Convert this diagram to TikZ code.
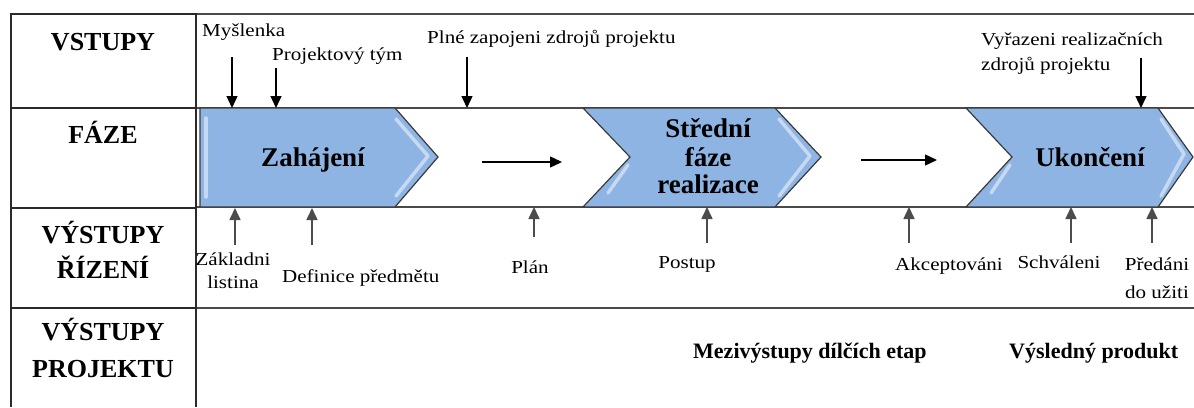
\documentclass[tikz,border=0pt]{standalone}
\usepackage{fontspec}
\setmainfont{Liberation Serif}
\newfontfamily\lblfont[FakeStretch=1.15]{Liberation Serif}
\usetikzlibrary{arrows.meta}
\definecolor{chevfill}{HTML}{8EB4E3}
\definecolor{chevline}{HTML}{3A3A3A}
\definecolor{gridline}{HTML}{2A2A2A}
\tikzset{
  headbold/.style={font=\fontsize{26}{36}\selectfont\bfseries, align=center, inner sep=0pt},
  phasetxt/.style={font=\fontsize{27}{28}\selectfont\bfseries, align=center, inner sep=0pt},
  outtxt/.style={font=\fontsize{22}{26}\selectfont\bfseries, inner sep=0pt},
  lbl/.style={font=\lblfont\fontsize{18.3}{24}\selectfont, inner sep=0pt},
  chevron/.style={fill=chevfill, draw=chevline, line width=1.2pt, line join=miter},
  bevel/.style={draw=white, opacity=0.5, line width=3.5pt, line cap=round, line join=round},
  gridrule/.style={draw=gridline, line width=1.8pt},
  thinrule/.style={draw=gridline!85, line width=1.5pt},
  flowarrow/.style={draw=black, line width=1.4pt, -{Triangle[length=12pt,width=11pt]}},
  uparrow/.style={draw=black!70, line width=1.6pt, -{Triangle[length=12pt,width=11pt]}}
}
\begin{document}
\begin{tikzpicture}[x=1pt,y=-1pt]
\useasboundingbox (0,0) rectangle (1194,407);
\fill[white] (0,0) rectangle (1194,407);

% table rules
\draw[thinrule] (196,14) -- (1194,14);
\draw[thinrule] (196,108) -- (1194,108);
\draw[thinrule] (196,207) -- (1194,207);
\draw[thinrule] (196,308) -- (1194,308);
\draw[gridrule] (11,14) -- (196,14);
\draw[gridrule] (11,108) -- (196,108);
\draw[gridrule] (11,208) -- (196,208);
\draw[gridrule] (11,308) -- (196,308);
\draw[gridrule] (11,13) -- (11,407);
\draw[gridrule] (196,13) -- (196,407);

% row headers
\node[headbold, anchor=base] (hin) at (103,50) {VSTUPY};
\node[headbold, anchor=base] (hfaze) at (103,143) {FÁZE};
\node[headbold, anchor=base] (hriz) at (103,243) {VÝSTUPY};
\node[headbold, anchor=base] (hriz2) at (103,278) {ŘÍZENÍ};
\node[headbold, anchor=base] (hproj) at (103,340) {VÝSTUPY};
\node[headbold, anchor=base] (hproj2) at (103,377) {PROJEKTU};

% chevrons
\draw[chevron] (200,108) -- (395,108) -- (438,157) -- (395,207) -- (200,207) -- cycle;
\draw[chevron] (583,108) -- (775,108) -- (821,157) -- (775,207) -- (583,207) -- (630,157) -- cycle;
\draw[chevron] (966,108) -- (1158,108) -- (1193,157) -- (1158,207) -- (966,207) -- (1012,157) -- cycle;

% bevel highlights
\draw[bevel] (206,118) -- (206,197);
\draw[bevel] (396,119) -- (428,156) -- (396,196);
\draw[bevel] (608,193) -- (628,165);
\draw[bevel] (779,119) -- (810,156) -- (779,196);
\draw[bevel] (991,193) -- (1010,165);
\draw[bevel] (1161,119) -- (1184,154) -- (1161,196);

% phase names
\node[phasetxt, anchor=base] (p1) at (313,166) {Zahájení};
\node[phasetxt, anchor=base] (p2a) at (708,137) {Střední};
\node[phasetxt, anchor=base] (p2b) at (708,166) {fáze};
\node[phasetxt, anchor=base] (p2c) at (708,193) {realizace};
\node[phasetxt, anchor=base] (p3) at (1090,166) {Ukončení};

% flow arrows between phases
\coordinate (f1s) at (482,162);
\coordinate (f1e) at (562,162);
\coordinate (f2s) at (861,160);
\coordinate (f2e) at (937,160);
\draw[flowarrow] (f1s) -- (f1e);
\draw[flowarrow] (f2s) -- (f2e);

% inputs
\node[lbl, anchor=base west] (mysl) at (202,36) {Myšlenka};
\node[lbl, anchor=base west] (tym) at (272,60) {Projektový tým};
\node[lbl, anchor=base west] (plne) at (427,43) {Plné zapojeni zdrojů projektu};
\node[lbl, anchor=base west] (vyr) at (981,45) {Vyřazeni realizačních};
\node[lbl, anchor=base west] (vyr2) at (981,70) {zdrojů projektu};

\coordinate (i1s) at (232,57);  \coordinate (i1e) at (232,108);
\coordinate (i2s) at (276,68);  \coordinate (i2e) at (276,108);
\coordinate (i3s) at (467,57);  \coordinate (i3e) at (467,108);
\coordinate (i4s) at (1141,58); \coordinate (i4e) at (1141,108);
\draw[flowarrow] (i1s) -- (i1e);
\draw[flowarrow] (i2s) -- (i2e);
\draw[flowarrow] (i3s) -- (i3e);
\draw[flowarrow] (i4s) -- (i4e);

% management outputs
\node[lbl, anchor=base] (zak) at (233,265) {Základni};
\node[lbl, anchor=base] (zak2) at (233,288) {listina};
\node[lbl, anchor=base west] (def) at (282,282) {Definice předmětu};
\node[lbl, anchor=base] (plan) at (530,273) {Plán};
\node[lbl, anchor=base] (post) at (687,268) {Postup};
\node[lbl, anchor=base] (akc) at (949,270) {Akceptováni};
\node[lbl, anchor=base] (sch) at (1059,268) {Schváleni};
\node[lbl, anchor=base] (pred) at (1157,270) {Předáni};
\node[lbl, anchor=base] (pred2) at (1157,298) {do užiti};

\coordinate (o1s) at (235,245);  \coordinate (o1e) at (235,208);
\coordinate (o2s) at (312,245);  \coordinate (o2e) at (312,208);
\coordinate (o3s) at (534,237);  \coordinate (o3e) at (534,207);
\coordinate (o4s) at (707,243);  \coordinate (o4e) at (707,207);
\coordinate (o5s) at (909,243);  \coordinate (o5e) at (909,207);
\coordinate (o6s) at (1071,243); \coordinate (o6e) at (1071,207);
\coordinate (o7s) at (1152,243); \coordinate (o7e) at (1152,207);
\draw[uparrow] (o1s) -- (o1e);
\draw[uparrow] (o2s) -- (o2e);
\draw[uparrow] (o3s) -- (o3e);
\draw[uparrow] (o4s) -- (o4e);
\draw[uparrow] (o5s) -- (o5e);
\draw[uparrow] (o6s) -- (o6e);
\draw[uparrow] (o7s) -- (o7e);

% project outputs
\node[outtxt, anchor=base west] (mezi) at (693,358) {Mezivýstupy dílčích etap};
\node[outtxt, anchor=base west] (vysl) at (1009,358) {Výsledný produkt};
\end{tikzpicture}
\end{document}
